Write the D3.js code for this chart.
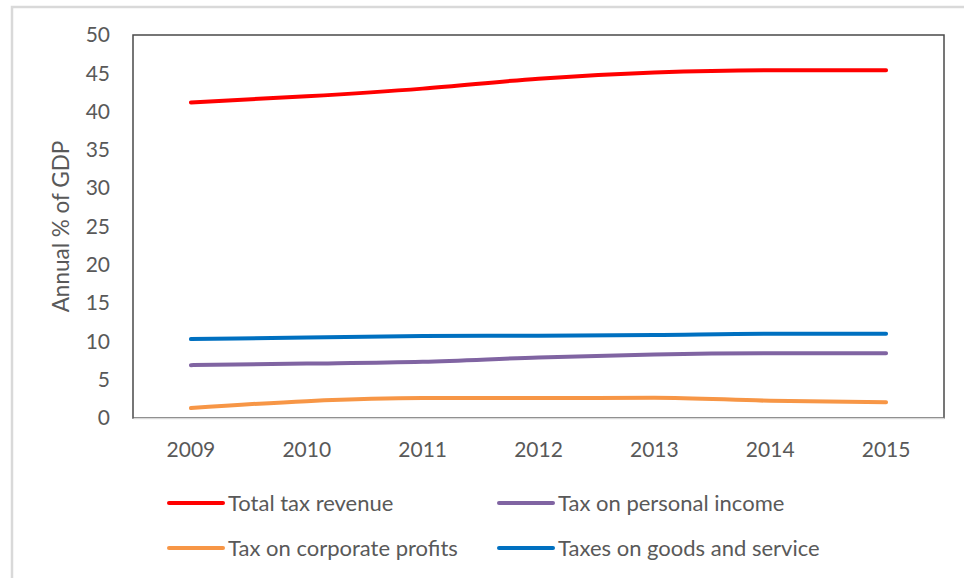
<!DOCTYPE html>
<html>
<head>
<meta charset="utf-8">
<script src="https://cdn.jsdelivr.net/npm/d3@7"></script>
<style>
  html, body { margin: 0; padding: 0; background: #fff; }
  svg { display: block; }
  text { font-family: Lato, "Open Sans", sans-serif; fill: #595959; }
</style>
</head>
<body>
<svg id="chart" width="964" height="578"></svg>
<script>
// Tax revenue indicators, annual % of GDP
const years = ["2009", "2010", "2011", "2012", "2013", "2014", "2015"];
const totalTaxRevenue   = [41.2, 42.0, 43.0, 44.3, 45.1, 45.4, 45.4];
const personalIncomeTax = [6.9, 7.1, 7.35, 7.9, 8.3, 8.45, 8.45];
const corporateProfits  = [1.3, 2.2, 2.6, 2.6, 2.65, 2.25, 2.05];
const goodsAndServices  = [10.3, 10.5, 10.7, 10.75, 10.85, 11.0, 11.0];
const yTicks = [0, 5, 10, 15, 20, 25, 30, 35, 40, 45, 50];

const seriesNames  = ["Total tax revenue", "Tax on personal income", "Tax on corporate profits", "Taxes on goods and service"];
const seriesValues = [totalTaxRevenue, personalIncomeTax, corporateProfits, goodsAndServices];
const seriesColors = ["#ff0000", "#8064a2", "#f79646", "#0070c0"];

const svg = d3.select("#chart");

// outer chart frame
svg.append("rect")
  .attr("x", 12).attr("y", 7)
  .attr("width", 980).attr("height", 600)
  .attr("fill", "none").attr("stroke", "#d9d9d9").attr("stroke-width", 2.5);

const plot = { left: 133, top: 35, right: 944, bottom: 418 };

const x = d3.scaleBand().domain(years).range([plot.left, plot.right]);
const y = d3.scaleLinear().domain([0, 50]).range([plot.bottom, plot.top]);

// plot area border
svg.append("rect")
  .attr("x", plot.left).attr("y", plot.top)
  .attr("width", plot.right - plot.left).attr("height", plot.bottom - plot.top)
  .attr("fill", "none").attr("stroke", "#4a4a4a").attr("stroke-width", 1.5);

// y axis labels
const yAxis = svg.append("g")
  .attr("transform", `translate(${plot.left},0)`)
  .call(d3.axisLeft(y).tickValues(yTicks).tickSize(0).tickPadding(23));
yAxis.select(".domain").remove();
yAxis.selectAll("text").style("font-size", "21px").attr("fill", "#595959")
  .style("font-family", "Lato, sans-serif");

// x axis
const xAxis = svg.append("g")
  .attr("transform", `translate(0,${plot.bottom})`)
  .call(d3.axisBottom(x).tickSize(0).tickPadding(24));
xAxis.select(".domain").attr("stroke", "#d9d9d9").attr("stroke-width", 1.5);
xAxis.selectAll("text").style("font-size", "21px").attr("fill", "#595959")
  .style("font-family", "Lato, sans-serif");

// y axis title
svg.append("text")
  .attr("transform", `translate(69,${(plot.top + plot.bottom) / 2}) rotate(-90)`)
  .attr("text-anchor", "middle")
  .style("font-size", "22.5px")
  .text("Annual % of GDP");

// series lines
const line = d3.line()
  .x((d, i) => x(years[i]) + x.bandwidth() / 2)
  .y(d => y(d))
  .curve(d3.curveMonotoneX);

seriesValues.forEach((vals, k) => {
  svg.append("path")
    .datum(vals)
    .attr("d", line)
    .attr("fill", "none")
    .attr("stroke", seriesColors[k])
    .attr("stroke-width", 4)
    .attr("stroke-linecap", "round")
    .attr("stroke-linejoin", "round");
});

// legend
const legendPos = [
  { x: 169, y: 503 }, { x: 499, y: 503 },
  { x: 169, y: 548 }, { x: 499, y: 548 }
];
seriesNames.forEach((name, k) => {
  const g = svg.append("g").attr("transform", `translate(${legendPos[k].x},${legendPos[k].y})`);
  g.append("line")
    .attr("x1", 0).attr("x2", 54).attr("y1", 0).attr("y2", 0)
    .attr("stroke", seriesColors[k]).attr("stroke-width", 4)
    .attr("stroke-linecap", "round");
  g.append("text")
    .attr("x", 59).attr("y", 0).attr("dy", "0.35em")
    .style("font-size", "22px")
    .text(name);
});
</script>
</body>
</html>
